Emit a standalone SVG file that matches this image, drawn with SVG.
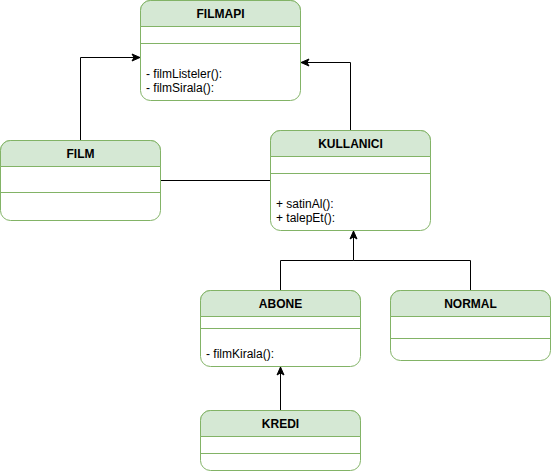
<svg xmlns="http://www.w3.org/2000/svg" width="551" height="471" viewBox="0 0 551 471">
<style>
.box{fill:#ffffff;stroke:#82b366;stroke-width:1}
.hdr{fill:#d5e8d4;stroke:#82b366;stroke-width:1}
.div{stroke:#82b366;stroke-width:1;fill:none}
.title{font-family:"Liberation Sans",Arial,sans-serif;font-size:12px;font-weight:bold;fill:#000;text-anchor:middle}
.mth{font-family:"Liberation Sans",Arial,sans-serif;font-size:12px;fill:#000}
.edge{fill:none;stroke:#000;stroke-width:1}
</style>
<defs>
<marker id="arr" markerUnits="userSpaceOnUse" markerWidth="10" markerHeight="10" refX="9" refY="5" orient="auto">
<path d="M1,1.5 L9,5 L1,8.5 L3,5 Z" fill="#000" stroke="#000" stroke-width="1"/>
</marker>
</defs>
<g id="connectors">
<path class="edge" d="M80.5,140.5 V57.5 H140" marker-end="url(#arr)"/>
<path class="edge" d="M350.5,130.5 V62.5 H301" marker-end="url(#arr)"/>
<path class="edge" d="M160.5,180.5 H270.5"/>
<path class="edge" d="M280.5,290.5 V260.5 H353.5 V231" marker-end="url(#arr)"/>
<path class="edge" d="M470.5,290.5 V260.5 H353.5"/>
<path class="edge" d="M280.5,410.5 V367" marker-end="url(#arr)"/>
</g>
<g id="FILMAPI">
<rect class="box" x="140.5" y="0.5" width="160" height="100" rx="10"/>
<path class="hdr" d="M140.5,26.5 V10.5 A10,10 0 0 1 150.5,0.5 H290.5 A10,10 0 0 1 300.5,10.5 V26.5 Z"/>
<line class="div" x1="140.5" y1="43.5" x2="300.5" y2="43.5"/>
<text class="title" x="220.5" y="17.5">FILMAPI</text>
<text class="mth" x="146" y="77.5">- filmListeler():</text>
<text class="mth" x="146" y="91.5">- filmSirala():</text>
</g>
<g id="FILM">
<rect class="box" x="0.5" y="140.5" width="160" height="80" rx="10"/>
<path class="hdr" d="M0.5,166.5 V150.5 A10,10 0 0 1 10.5,140.5 H150.5 A10,10 0 0 1 160.5,150.5 V166.5 Z"/>
<line class="div" x1="0.5" y1="192.5" x2="160.5" y2="192.5"/>
<text class="title" x="80.5" y="157.5">FILM</text>
</g>
<g id="KULLANICI">
<rect class="box" x="270.5" y="130.5" width="160" height="100" rx="10"/>
<path class="hdr" d="M270.5,156.5 V140.5 A10,10 0 0 1 280.5,130.5 H420.5 A10,10 0 0 1 430.5,140.5 V156.5 Z"/>
<line class="div" x1="270.5" y1="173.5" x2="430.5" y2="173.5"/>
<text class="title" x="350.5" y="147.5">KULLANICI</text>
<text class="mth" x="276" y="207.5">+ satinAl():</text>
<text class="mth" x="276" y="221.5">+ talepEt():</text>
</g>
<g id="ABONE">
<rect class="box" x="200.5" y="290.5" width="160" height="76" rx="10"/>
<path class="hdr" d="M200.5,316.5 V300.5 A10,10 0 0 1 210.5,290.5 H350.5 A10,10 0 0 1 360.5,300.5 V316.5 Z"/>
<line class="div" x1="200.5" y1="328.5" x2="360.5" y2="328.5"/>
<text class="title" x="280.5" y="307.5">ABONE</text>
<text class="mth" x="206" y="357.5">- filmKirala():</text>
</g>
<g id="NORMAL">
<rect class="box" x="390.5" y="290.5" width="160" height="70" rx="10"/>
<path class="hdr" d="M390.5,316.5 V300.5 A10,10 0 0 1 400.5,290.5 H540.5 A10,10 0 0 1 550.5,300.5 V316.5 Z"/>
<line class="div" x1="390.5" y1="338.5" x2="550.5" y2="338.5"/>
<text class="title" x="470.5" y="307.5">NORMAL</text>
</g>
<g id="KREDI">
<rect class="box" x="200.5" y="410.5" width="160" height="60" rx="10"/>
<path class="hdr" d="M200.5,436.5 V420.5 A10,10 0 0 1 210.5,410.5 H350.5 A10,10 0 0 1 360.5,420.5 V436.5 Z"/>
<line class="div" x1="200.5" y1="453.5" x2="360.5" y2="453.5"/>
<text class="title" x="280.5" y="427.5">KREDI</text>
</g>
</svg>
